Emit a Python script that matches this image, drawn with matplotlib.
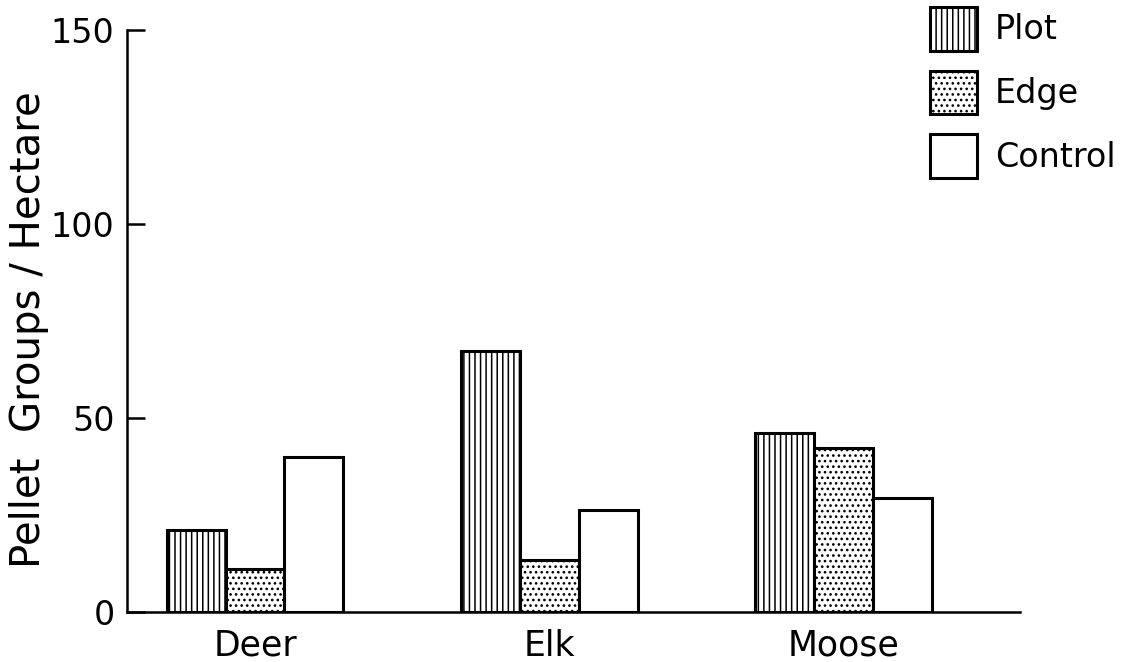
import numpy as np
import matplotlib
matplotlib.use("Agg")
import matplotlib.pyplot as plt

# --- data ---
species = ["Deer", "Elk", "Moose"]
series_names = ["Plot", "Edge", "Control"]
plot_vals = [21.2, 67.3, 46.2]
edge_vals = [11.2, 13.4, 42.3]
control_vals = [40.0, 26.3, 29.4]
y_ticks = [0, 50, 100, 150]

plt.rcParams["font.family"] = ["DejaVu Sans"]
plt.rcParams["hatch.linewidth"] = 1.1

fig = plt.figure(figsize=(11.3, 6.62), dpi=100)
ax = fig.add_axes([0.1124, 0.0755, 0.7903, 0.879])

x = np.arange(len(species))
width = 0.2
hatches = ["|||", "...", ""]
for i, (name, vals) in enumerate(zip(series_names, [plot_vals, edge_vals, control_vals])):
    ax.bar(x + (i - 1) * width, vals, width, label=name,
           facecolor="white", edgecolor="black", linewidth=2.2,
           hatch=hatches[i], zorder=2)

ax.set_xlim(-0.435, 2.6)
ax.set_ylim(0, 150)
ax.set_yticks(y_ticks)
ax.set_xticks(x)
ax.set_xticklabels(species, fontsize=25)
ax.tick_params(axis="x", length=0, pad=12)
ax.tick_params(axis="y", direction="in", length=13, width=1.8, labelsize=24, pad=9)

for side in ["top", "right"]:
    ax.spines[side].set_visible(False)
for side in ["left", "bottom"]:
    ax.spines[side].set_linewidth(1.8)

# y label placed by hand, it sits partly under the tick labels
fig.text(29 / 1130, 1 - 330 / 662, "Pellet  Groups / Hectare", fontsize=29,
         rotation=90, ha="center", va="center")

fig.legend(loc="upper left", bbox_to_anchor=(0.823, 0.99), frameon=False,
           fontsize=24, handlelength=1.4, handleheight=1.65,
           labelspacing=0.6, handletextpad=0.55, borderpad=0, borderaxespad=0)

fig.savefig("out.png", dpi=100, facecolor="white")
